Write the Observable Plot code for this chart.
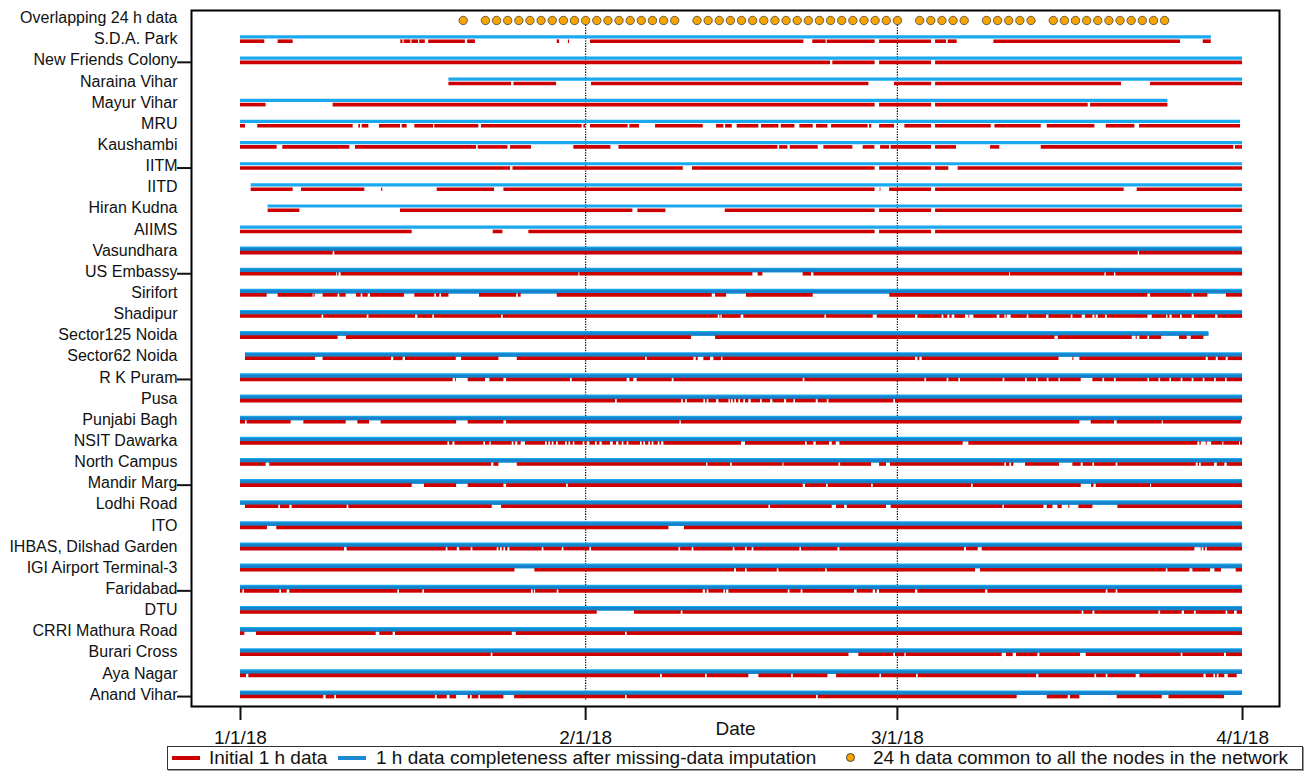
<!DOCTYPE html>
<html><head><meta charset="utf-8">
<script src="https://cdn.jsdelivr.net/npm/d3@7"></script>
<script src="https://cdn.jsdelivr.net/npm/@observablehq/plot@0.6"></script>
<style>
body{margin:0;background:#fff;font-family:"Liberation Sans",Arial,Helvetica,sans-serif;}
#wrap{position:relative;width:1314px;height:771px;overflow:hidden;}
#wrap svg{overflow:visible;}
#legend{position:absolute;left:167px;top:746px;width:1136px;height:24px;box-sizing:border-box;border:1px solid #333;box-shadow:1px 1px 0 #999;background:#fff;font-size:19px;line-height:21px;color:#111;}
#legend .sw{position:absolute;top:8.5px;width:28px;height:4px;}
#legend .tx{position:absolute;top:0;white-space:nowrap;}
#legend .dt{position:absolute;top:6px;width:9px;height:9px;border-radius:50%;box-sizing:border-box;border:0.8px solid #444;background:#f7a400;}
</style></head>
<body><div id="wrap"></div>
<script>
// ---- categories ----
const stations = ["S.D.A. Park","New Friends Colony","Naraina Vihar","Mayur Vihar","MRU","Kaushambi","IITM","IITD","Hiran Kudna","AIIMS","Vasundhara","US Embassy","Sirifort","Shadipur","Sector125 Noida","Sector62 Noida","R K Puram","Pusa","Punjabi Bagh","NSIT Dawarka","North Campus","Mandir Marg","Lodhi Road","ITO","IHBAS, Dilshad Garden","IGI Airport Terminal-3","Faridabad","DTU","CRRI Mathura Road","Burari Cross","Aya Nagar","Anand Vihar"];
const topLabel = "Overlapping 24 h data";
// ---- x tick labels (days since 1 Jan 2018) ----
const tickDays = [0, 31, 59, 90];
const tickLabels = ["1/1/18", "2/1/18", "3/1/18", "4/1/18"];
const dividerDays = [31, 59];
// ---- 24 h data common to all nodes (days since 1 Jan 2018) ----
const overlapDays = [20,22,23,24,25,26,27,28,29,30,31,32,33,34,35,36,37,38,39,41,42,43,44,45,46,47,48,49,50,51,52,53,54,55,56,57,58,59,61,62,63,64,65,67,68,69,70,71,73,74,75,76,77,78,79,80,81,82,83];
// ---- imputed 1 h completeness extents (days) ----
const blueStart = [0,0,18.72,0,0,0,0,0.96,2.48,0,0,0,0,0,0,0.45,0,0,0,0,0,0,0,0,0,0,0,0,0,0,0,0];
const blueEnd   = [87.2,90,90,83.3,89.82,90,90,90,90,90,90,90,90,90,86.98,90,90,90,90,90,90,90,90,90,90,90,90,90,90,90,90,90];
// ---- initial 1 h data segments per station (days since 1 Jan 2018) ----
const sdaPark = [[0,2.18],[3.38,4.73],[14.4,14.6],[14.7,15.3],[15.4,16.0],[16.1,16.6],[16.9,20.2],[20.4,21.1],[28.45,28.66],[29.45,29.55],[31.44,50.6],[51.4,52.6],[52.7,57.0],[57.4,62.07],[62.43,63.41],[63.56,64.37],[67.67,84.43],[86.47,87.19]];
const newFriendsColony = [[0,53.0],[53.2,57.0],[57.4,62.07],[62.43,90]];
const narainaVihar = [[18.72,24.35],[24.56,28.39],[31.53,56.44],[58.74,62.07],[62.43,79.13],[81.74,90]];
const mayurVihar = [[0,2.3],[8.32,57.0],[57.4,62.07],[62.43,76.14],[76.35,83.3]];
const mru = [[0,0.45],[1.55,10.12],[10.63,10.78],[10.93,11.53],[12.48,14.37],[14.52,14.97],[15.66,17.35],[17.45,21.41],[21.65,30.69],[30.84,30.99],[31.44,34.82],[34.97,35.84],[37.28,41.56],[42.76,43.42],[43.57,44.17],[44.61,46.56],[46.8,48.36],[48.57,49.8],[50.24,51.44],[51.74,52.76],[53.09,56.37],[56.5,56.7],[57.4,58.74],[59.67,62.07],[62.43,67.43],[67.76,71.92],[72.46,76.74],[77.76,80.33],[80.75,89.82]];
const kaushambi = [[0,3.29],[3.8,9.82],[10.33,21.2],[21.35,24.02],[24.26,26.14],[29.94,33.27],[33.99,48.27],[48.42,49.17],[49.38,51.89],[52.4,55.0],[55.93,56.98],[57.49,58.3],[58.44,62.07],[62.43,64.31],[67.37,68.2],[71.92,89.22],[89.37,90]];
const iitm = [[0,24.26],[24.47,39.77],[40.6,57.0],[57.4,62.07],[62.43,63.62],[64.46,90]];
const iitd = [[0.96,4.73],[5.48,11.17],[12.68,12.78],[17.67,22.82],[23.66,57.0],[57.45,57.52],[58.3,62.07],[62.43,79.37],[80.54,90]];
const hiranKudna = [[2.48,5.33],[14.37,35.24],[35.69,38.21],[43.54,57.0],[57.4,62.07],[62.43,90]];
const aiims = [[0,15.42],[22.7,23.57],[25.9,57.0],[57.4,62.07],[62.43,90]];
const vasundhara = [[0,8.32],[8.47,80.63],[80.75,90]];
const usEmbassy = [[0,8.62],[8.7,8.85],[9.04,30.39],[30.48,46.02],[46.5,46.92],[50.54,51.29],[51.5,69.07],[69.16,77.64],[77.76,78.5],[78.62,90]];
const sirifort = [[0,2.4],[3.38,6.52],[6.6,6.7],[7.42,8.77],[8.92,9.49],[10.42,10.84],[10.99,11.47],[11.68,14.73],[15.66,17.45],[17.6,17.91],[18.06,18.72],[21.47,24.8],[24.95,25.21],[28.45,42.37],[42.67,43.66],[45.45,51.44],[58.32,81.5],[81.74,85.48],[85.63,86.89],[88.56,90]];
const shadipur = [[0,7.33],[7.48,11.38],[11.53,15.72],[15.93,17.27],[17.42,23.45],[23.6,42.91],[43.06,43.15],[43.27,44.97],[45.21,52.49],[52.64,56.83],[57.19,60.63],[60.84,63.02],[63.17,63.53],[63.71,63.92],[64.16,65.12],[65.42,65.5],[65.87,67.97],[68.2,68.65],[68.77,68.86],[69.22,70.66],[70.81,72.4],[72.61,74.61],[74.76,75.6],[75.9,76.56],[76.74,76.86],[77.04,77.7],[77.85,81.5],[81.89,83.18],[83.3,83.48],[83.68,84.43],[84.58,85.48],[85.69,87.58],[87.79,90]];
const sector125Noida = [[0,8.77],[9.52,40.51],[42.67,73.15],[73.45,80.09],[80.45,80.54],[80.78,81.5],[81.65,82.73],[84.34,85.03],[85.39,86.53]];
const sector62Noida = [[0.45,6.73],[7.42,13.56],[13.77,14.61],[14.82,19.38],[19.86,23.21],[24.86,36.38],[36.53,40.72],[40.93,41.11],[41.62,42.22],[42.52,43.21],[43.33,60.63],[60.84,61.02],[61.23,73.51],[74.76,74.85],[75.39,86.74],[86.92,87.64],[87.82,88.53],[88.71,90]];
const rkPuram = [[0,19.1],[19.32,19.4],[20.45,22.01],[22.4,23.66],[23.9,29.64],[29.79,34.73],[34.97,35.33],[35.63,38.78],[38.93,50.54],[50.69,61.47],[61.62,63.47],[63.62,64.52],[64.67,68.5],[68.65,70.51],[70.66,71.5],[71.65,72.46],[72.61,73.51],[73.65,75.51],[76.56,77.46],[77.61,78.5],[78.65,81.5],[81.65,82.49],[82.64,83.48],[83.62,84.49],[84.64,85.48],[85.63,86.47],[86.62,87.49],[87.64,88.47],[88.62,90]];
const pusa = [[0,33.69],[33.84,39.62],[39.77,39.98],[40.13,41.62],[41.77,41.92],[42.07,42.76],[42.97,43.87],[44.02,44.11],[44.26,44.4],[44.55,44.76],[44.91,45.21],[45.36,45.66],[45.87,46.71],[46.86,47.61],[47.82,48.87],[49.05,49.71],[49.85,51.71],[51.89,52.7],[52.85,58.68],[58.83,90]];
const punjabiBagh = [[0,0.45],[0.6,4.55],[5.69,9.49],[10.54,11.59],[12.63,19.41],[20.45,23.66],[23.9,39.47],[39.59,75.39],[76.41,78.5],[78.74,82.79],[82.88,89.9]];
const nsitDawarka = [[0,18.63],[18.78,19.08],[19.26,21.86],[22.01,22.4],[22.52,24.41],[24.56,24.71],[24.91,25.21],[25.6,27.4],[27.55,27.7],[27.85,28.0],[28.15,28.39],[28.54,29.2],[29.35,29.5],[29.65,29.89],[30.03,30.78],[30.93,31.14],[31.38,31.89],[32.04,32.28],[32.49,33.24],[33.48,33.78],[33.99,34.29],[34.43,34.73],[34.88,35.93],[36.08,36.23],[36.38,36.68],[36.83,36.98],[37.13,37.52],[37.67,37.82],[38.03,45.0],[45.36,50.75],[50.9,51.5],[51.71,52.91],[53.15,53.51],[53.84,64.91],[65.42,85.99],[86.17,86.29],[86.74,86.83],[87.22,88.23],[88.32,89.73],[89.82,90]];
const northCampus = [[0,2.3],[2.63,22.55],[22.76,23.21],[24.86,41.86],[41.98,44.02],[44.17,48.72],[48.81,53.75],[53.9,56.68],[57.4,58.02],[58.38,68.65],[68.8,69.1],[69.25,69.46],[70.51,73.56],[74.76,75.51],[75.69,76.56],[76.71,78.65],[78.8,85.84],[86.02,86.14],[86.29,87.49],[87.73,88.41],[88.62,90]];
const mandirMarg = [[0,15.42],[16.53,19.41],[20.45,23.66],[23.9,29.29],[29.44,50.54],[50.75,52.64],[52.79,56.68],[56.83,65.66],[65.81,75.51],[76.44,76.65],[76.86,81.74],[81.83,90]];
const lodhiRoad = [[0.45,3.44],[3.59,4.43],[4.64,9.58],[9.73,22.61],[23.45,47.46],[47.61,53.15],[53.54,54.26],[54.5,58.02],[58.44,68.47],[68.62,72.16],[72.46,72.97],[73.42,73.8],[74.4,74.49],[75.3,76.56],[78.8,90]];
const ito = [[0,2.42],[3.26,38.48],[39.88,90]];
const ihbas = [[0,9.34],[9.58,18.48],[18.63,19.47],[19.68,20.72],[20.87,23.06],[23.21,23.36],[23.51,23.66],[23.81,24.02],[24.2,27.1],[27.25,28.9],[29.05,31.38],[31.53,39.38],[39.53,40.57],[40.72,44.26],[44.4,45.36],[45.51,45.96],[46.11,50.24],[50.39,53.66],[53.84,65.03],[65.21,66.26],[66.62,85.72],[86.29,86.38],[86.53,86.68],[86.83,90]];
const igiAirport = [[0,24.65],[26.44,44.38],[44.55,45.36],[45.51,48.21],[48.36,52.55],[52.7,66.02],[66.47,83.15],[83.3,85.27],[85.54,87.13],[87.52,88.11],[89.43,90]];
const faridabad = [[0,0.21],[0.36,3.53],[3.68,4.19],[4.43,14.13],[14.28,16.38],[16.53,26.14],[26.29,26.4],[26.5,28.45],[28.6,41.56],[41.77,41.92],[42.07,43.42],[43.57,43.66],[43.87,49.2],[49.35,50.36],[50.51,55.15],[55.39,56.83],[57.04,57.19],[57.4,60.63],[60.84,66.92],[67.13,77.76],[77.91,78.65],[78.8,90]];
const dtu = [[0,32.04],[35.39,39.59],[39.74,75.6],[75.75,76.56],[76.74,82.49],[82.64,84.58],[84.79,85.69],[85.84,88.53],[88.68,89.28],[89.52,90]];
const crriMathuraRoad = [[0,0.39],[1.44,12.19],[12.51,13.71],[13.92,24.41],[24.77,34.58],[34.73,90]];
const burariCross = [[0,22.52],[22.67,54.65],[55.54,58.68],[58.83,59.67],[59.79,68.41],[68.8,69.4],[69.7,71.62],[71.8,75.45],[75.96,84.49],[84.64,88.38],[88.56,90]];
const ayaNagar = [[0,0.54],[0.75,37.73],[37.88,41.77],[41.92,45.66],[46.56,49.5],[49.65,52.76],[53.54,57.43],[57.58,60.72],[60.87,71.5],[71.71,76.74],[76.89,77.76],[77.91,80.45],[80.78,86.53],[86.74,87.43],[87.58,87.73],[87.88,88.41],[88.71,89.52]];
const anandVihar = [[0,7.48],[7.69,8.47],[8.62,17.51],[17.67,18.57],[18.81,19.41],[20.45,20.66],[20.81,21.41],[21.56,23.66],[24.62,34.58],[34.73,51.74],[51.89,69.76],[72.46,74.34],[74.55,75.39],[78.74,82.79],[83.39,88.38]];
const redSegments = [sdaPark,newFriendsColony,narainaVihar,mayurVihar,mru,kaushambi,iitm,iitd,hiranKudna,aiims,vasundhara,usEmbassy,sirifort,shadipur,sector125Noida,sector62Noida,rkPuram,pusa,punjabiBagh,nsitDawarka,northCampus,mandirMarg,lodhiRoad,ito,ihbas,igiAirport,faridabad,dtu,crriMathuraRoad,burariCross,ayaNagar,anandVihar];

// ---- build ----
const T0 = Date.UTC(2018, 0, 1);
const day = d => new Date(T0 + d * 864e5);
const rowLabels = [topLabel, ...stations];
const blueData = stations.map((s, k) => ({row: k + 1, x1: day(blueStart[k]), x2: day(blueEnd[k])}));
const blueTop = blueData.filter(d => d.row <= 10);
const blueBottom = blueData.filter(d => d.row > 10);
const redData = stations.flatMap((s, k) => redSegments[k].map(([a, b]) => ({row: k + 1, x1: day(a), x2: day(b)})));
const tickRows = d3.range(2, 33, 5);

const chart = Plot.plot({
  width: 1314, height: 744,
  marginLeft: 191, marginRight: 35, marginTop: 10, marginBottom: 38,
  style: {fontFamily: "'Liberation Sans', Arial, Helvetica, sans-serif", fontSize: "16px", background: "white", color: "#111", overflow: "visible"},
  x: {type: "utc", domain: [day(-4.40), day(93.32)]},
  y: {type: "linear", domain: [32.47, -0.452]},
  marks: [
    Plot.ruleX(dividerDays, {x: d => day(d), y1: () => -0.12, y2: () => 32.19, stroke: "black", strokeWidth: 1.2, strokeDasharray: "1.3,1.3"}),
    Plot.ruleY(blueTop, {y: "row", x1: "x1", x2: "x2", stroke: "#1aa8ee", strokeWidth: 3.2, dy: -4.3}),
    Plot.ruleY(blueBottom, {y: "row", x1: "x1", x2: "x2", stroke: "#1aa8ee", strokeWidth: 4.6, dy: -3.8}),
    Plot.ruleY(blueBottom, {y: "row", x1: "x1", x2: "x2", stroke: "#1684cc", strokeWidth: 3.5, dy: -3.2}),
    Plot.ruleY(redData, {y: "row", x1: "x1", x2: "x2", stroke: "#cc0000", strokeWidth: 3.6}),
    Plot.dot(overlapDays, {x: d => day(d), y: () => 0.02, r: 4.2, fill: "#f7a400", stroke: "#444", strokeWidth: 0.8}),
    Plot.frame({stroke: "black", strokeWidth: 2}),
    Plot.axisY(d3.range(33), {tickFormat: i => rowLabels[i], tickSize: 0, tickPadding: 14, dy: -2, fontSize: 16, label: null}),
    Plot.axisY(tickRows, {tickFormat: () => "", tickSize: 14, strokeWidth: 2, label: null}),
    Plot.axisX(tickDays.map(day), {tickFormat: d => tickLabels[tickDays.indexOf(Math.round((d - T0) / 864e5))], tickSize: 14, tickPadding: 10, fontSize: 19, strokeWidth: 2, label: null}),
    Plot.text(["Date"], {text: d => d, frameAnchor: "bottom", lineAnchor: "middle", dy: 22, fontSize: 19})
  ]
});
const wrap = document.getElementById("wrap");
wrap.appendChild(chart);

const legend = document.createElement("div");
legend.id = "legend";
legend.innerHTML =
  '<div class="sw" style="left:4px;background:#cc0000"></div>' +
  '<div class="tx" style="left:41px">Initial 1 h data</div>' +
  '<div class="sw" style="left:170px;background:#1b8ad2"></div>' +
  '<div class="tx" style="left:208px">1 h data completeness after missing-data imputation</div>' +
  '<div class="dt" style="left:678px"></div>' +
  '<div class="tx" style="left:705px">24 h data common to all the nodes in the network</div>';
wrap.appendChild(legend);
</script>
</body></html>
